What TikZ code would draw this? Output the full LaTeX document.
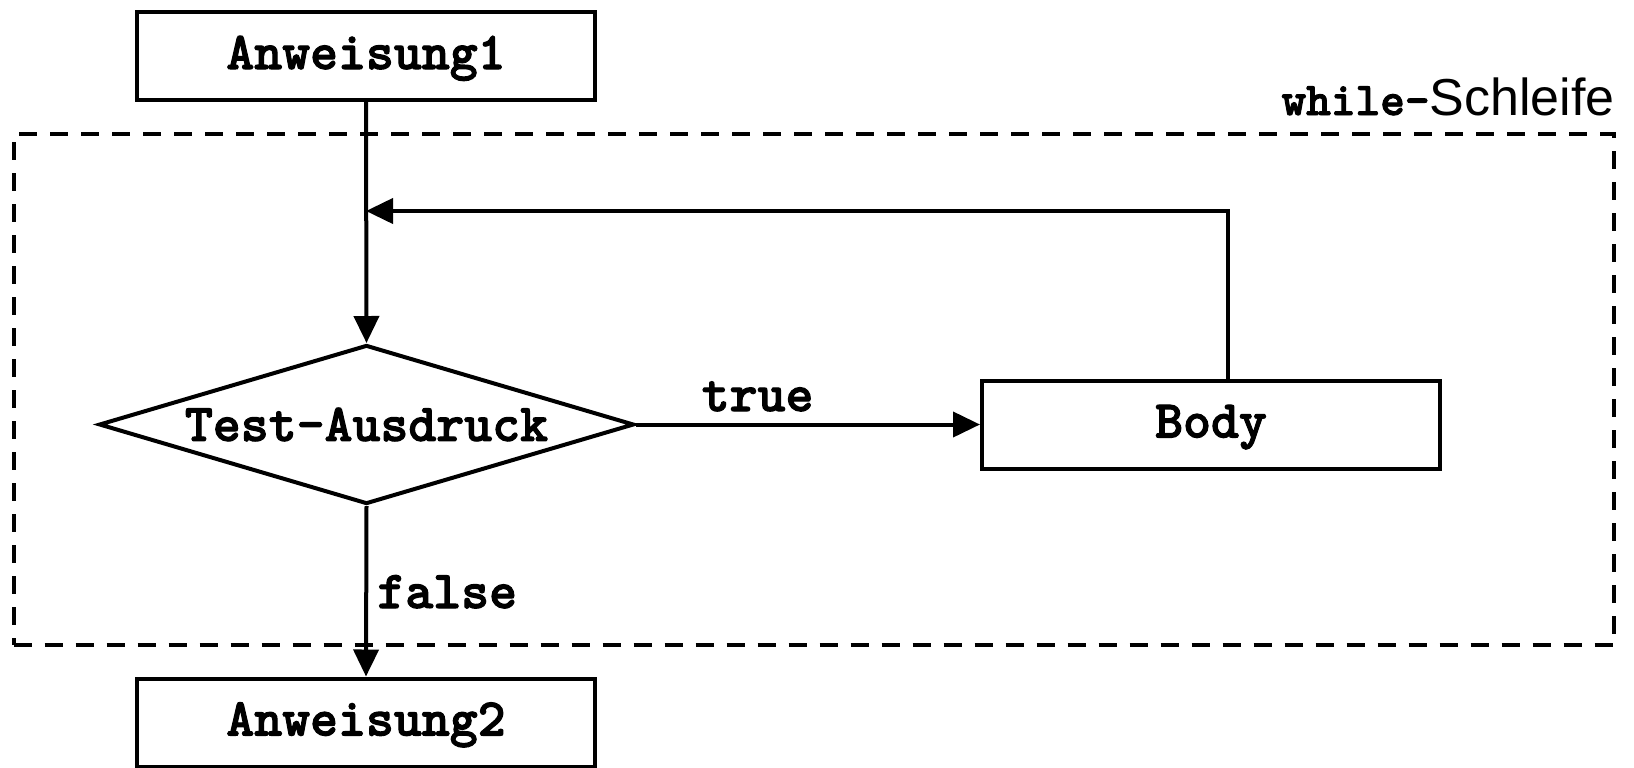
\documentclass[tikz,border=0pt]{standalone}
\usepackage{fontspec}
\setsansfont{Liberation Sans}
\newfontfamily\cfont{lmmonolt10-bold}[Extension=.otf, FakeBold=2]
\usetikzlibrary{shapes.geometric,arrows.meta}
\newcommand{\labfont}{\cfont\fontsize{26.6}{30}\selectfont}
\tikzset{
  lbl/.style={font=\labfont, inner sep=0pt},
  stmt/.style={draw, line width=2pt, rectangle, inner sep=0pt, minimum width=229pt, minimum height=44pt, font=\labfont, text height=21pt, text depth=8pt},
  testbox/.style={draw, line width=2pt, diamond, inner sep=0pt, aspect=3.36, minimum width=267.5pt, minimum height=79.5pt, font=\labfont},
  loopbox/.style={draw, line width=2pt, dash pattern=on 9pt off 6.5pt, rectangle, inner sep=0pt, minimum width=800.25pt, minimum height=255.5pt},
  conn/.style={line width=2pt, -{Triangle[length=13.5pt,width=12.5pt]}},
}
\begin{document}
\begin{tikzpicture}[x=0.5pt,y=-0.5pt]
\useasboundingbox (0,0) rectangle (1634,767);
\node[loopbox] (loop) at (813.75,389.5) {};
\node[inner sep=0pt, anchor=base east] (title) at (1615,115)
  {{\cfont\fontsize{23.5}{26}\selectfont while-}{\sffamily\fontsize{26}{30}\selectfont Schleife}};
\node[stmt] (a1) at (366,56) {Anweisung1};
\node[testbox] (test) at (366.5,424.5) {Test-Ausdruck};
\node[stmt] (body) at (1211,424.5) {Body};
\node[stmt] (a2) at (366,722.5) {Anweisung2};
\coordinate (join) at (366,211);
\draw[conn] (a1.south) -- (test.north);
\draw[conn] ([xshift=8.5pt]body.north) |- (join);
\draw[conn] (test.east) -- (body.west);
\draw[conn] (test.south) -- (a2.north);
\node[lbl, anchor=base] (t) at (757.6,411) {true};
\node[lbl, anchor=base west] (f) at (377,608) {false};
\end{tikzpicture}
\end{document}
